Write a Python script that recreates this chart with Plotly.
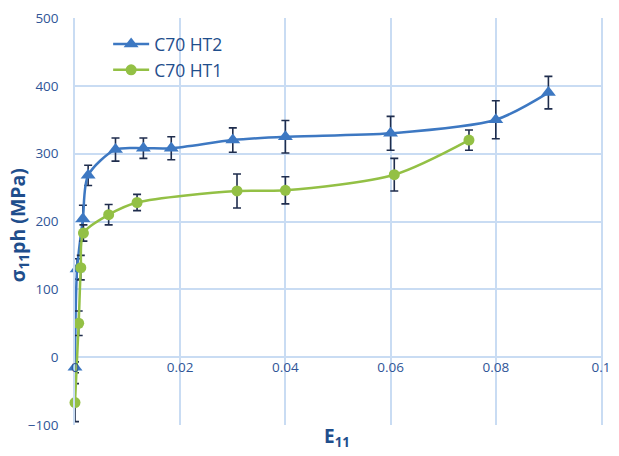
import plotly.graph_objects as go

# ---- data ----
ht2_x = [0.0, 0.0004, 0.0015, 0.0025, 0.0077, 0.013, 0.0183, 0.030, 0.040, 0.060, 0.080, 0.090]
ht2_y = [-15, 130, 204, 268, 306, 308, 308, 320, 325, 330, 350, 390]
ht2_err = [8, 15, 20, 15, 17, 15, 17, 18, 24, 25, 28, 24]

ht1_x = [0.0, 0.0007, 0.0011, 0.0016, 0.0064, 0.0118, 0.0308, 0.040, 0.0607, 0.0749]
ht1_y = [-67, 50, 132, 183, 210, 228, 245, 246, 269, 320]
ht1_err = [28, 18, 18, 12, 15, 12, 25, 20, 24, 15]

x_ticks = [0, 0.02, 0.04, 0.06, 0.08, 0.1]
x_tick_labels = ["0", "0.02", "0.04", "0.06", "0.08", "0.1"]
y_ticks = [-100, 0, 100, 200, 300, 400, 500]

blue = "#3d78c2"
green = "#93c045"
err_col = "#1f2d4d"
grid_col = "#c9dcf3"
tick_col = "#2f5597"
title_col = "#1f4e8c"
FONT = "'Open Sans', Lato, sans-serif"

fig = go.Figure()
fig.add_trace(go.Scatter(
    x=ht2_x, y=ht2_y, name="C70 HT2", mode="lines+markers",
    line=dict(color=blue, width=2.5, shape="spline", smoothing=0.8),
    marker=dict(symbol="triangle-up", size=13, color=blue),
    error_y=dict(type="data", array=ht2_err, color=err_col, thickness=1.6, width=4),
    cliponaxis=False,
))
fig.add_trace(go.Scatter(
    x=ht1_x, y=ht1_y, name="C70 HT1", mode="lines+markers",
    line=dict(color=green, width=2.5, shape="spline", smoothing=0.8),
    marker=dict(symbol="circle", size=11, color=green),
    error_y=dict(type="data", array=ht1_err, color=err_col, thickness=1.6, width=4),
    cliponaxis=False,
))

fig.update_layout(
    width=619, height=456,
    margin=dict(l=75, r=9, t=16, b=31),
    paper_bgcolor="white", plot_bgcolor="white",
    font=dict(family=FONT, color=tick_col, size=13),
    showlegend=True,
    legend=dict(x=0.063, y=0.98, xanchor="left", yanchor="top",
                bgcolor="rgba(0,0,0,0)", font=dict(size=17.5, color=title_col),
                itemwidth=36, tracegroupgap=0),
    xaxis=dict(range=[0, 0.1], tickvals=x_ticks, ticktext=x_tick_labels,
               showgrid=True, gridcolor=grid_col, gridwidth=1.5,
               zeroline=False, showline=False,
               anchor="free", position=100 / 600,
               tickfont=dict(size=13.5, color=tick_col)),
    yaxis=dict(range=[-100, 500], tickvals=y_ticks,
               showgrid=True, gridcolor=grid_col, gridwidth=1.5,
               zeroline=False, showline=True, linecolor=grid_col, linewidth=1.5,
               mirror=True, ticklabelstandoff=12,
               tickfont=dict(size=13.5, color=tick_col)),
)

fig.add_annotation(text="<b>σ<sub>11</sub>ph (MPa)</b>", xref="paper", yref="paper",
                   x=-0.107, y=0.49, xanchor="center", yanchor="middle",
                   textangle=-90, showarrow=False,
                   font=dict(size=19.5, color=title_col, family=FONT))
fig.add_annotation(text="<b>E<sub>11</sub></b>", xref="paper", yref="paper",
                   x=0.499, y=-0.03, xanchor="center", yanchor="middle",
                   showarrow=False,
                   font=dict(size=19, color=title_col, family=FONT))

fig.write_html("out.html")
